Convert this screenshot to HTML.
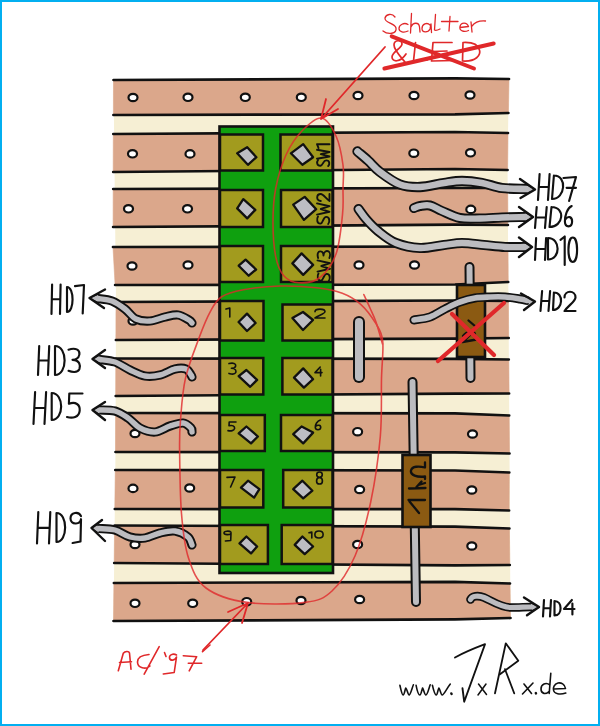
<!DOCTYPE html><html><head><meta charset="utf-8"><style>html,body{margin:0;padding:0;background:#fff;font-family:"Liberation Sans",sans-serif;}svg{display:block;}</style></head><body><svg width="600" height="726" viewBox="0 0 600 726">
<rect x="0" y="0" width="600" height="726" fill="#fff"/>
<path d="M113.49707602339181,80 L116.0,300 L115.5,450 L113.5,621 L510.46280991735534,618 L509.5,450 L507.5,160 L509.0,79Z" fill="#f6efd4"/>
<path d="M113.5,80 L455,78.3 L509.0,79 L508.4,113 L455,114.3 L113.4,115Z" fill="#dba78b" stroke="#dba78b" stroke-width="0.6"/>
<path d="M113.5,80 L455,78.3 L509.0,79 M113.4,115 L455,114.3 L508.4,113" stroke="#111" stroke-width="2.7" fill="none" stroke-linecap="round" stroke-linejoin="round"/>
<path d="M113.3,134 L455,132 L508.0,133 L507.6,170 L455,169 L113.2,172Z" fill="#dba78b" stroke="#dba78b" stroke-width="0.6"/>
<path d="M113.3,134 L455,132 L508.0,133 M113.2,172 L455,169 L507.6,170" stroke="#111" stroke-width="2.7" fill="none" stroke-linecap="round" stroke-linejoin="round"/>
<path d="M113.2,189 L455,188 L507.7,188 L507.9,225 L455,224.7 L113.1,227Z" fill="#dba78b" stroke="#dba78b" stroke-width="0.6"/>
<path d="M113.2,189 L455,188 L507.7,188 M113.1,227 L455,224.7 L507.9,225" stroke="#111" stroke-width="2.7" fill="none" stroke-linecap="round" stroke-linejoin="round"/>
<path d="M113.0,247 L455,246.5 L508.0,247 L508.2,282 L455,284.5 L115.1,285Z" fill="#dba78b" stroke="#dba78b" stroke-width="0.6"/>
<path d="M113.0,247 L455,246.5 L508.0,247 M115.1,285 L455,284.5 L508.2,282" stroke="#111" stroke-width="2.7" fill="none" stroke-linecap="round" stroke-linejoin="round"/>
<path d="M116.0,302 L455,300.5 L508.4,301 L508.7,338 L455,338.7 L115.9,340Z" fill="#dba78b" stroke="#dba78b" stroke-width="0.6"/>
<path d="M116.0,302 L455,300.5 L508.4,301 M115.9,340 L455,338.7 L508.7,338" stroke="#111" stroke-width="2.7" fill="none" stroke-linecap="round" stroke-linejoin="round"/>
<path d="M115.8,358.5 L455,358.9 L508.8,359.5 L509.1,393.5 L455,393.6 L115.7,396Z" fill="#dba78b" stroke="#dba78b" stroke-width="0.6"/>
<path d="M115.8,358.5 L455,358.9 L508.8,359.5 M115.7,396 L455,393.6 L509.1,393.5" stroke="#111" stroke-width="2.7" fill="none" stroke-linecap="round" stroke-linejoin="round"/>
<path d="M115.6,413 L455,413.3 L509.2,415.5 L509.5,453.5 L455,452.4 L115.5,452Z" fill="#dba78b" stroke="#dba78b" stroke-width="0.6"/>
<path d="M115.6,413 L455,413.3 L509.2,415.5 M115.5,452 L455,452.4 L509.5,453.5" stroke="#111" stroke-width="2.7" fill="none" stroke-linecap="round" stroke-linejoin="round"/>
<path d="M115.3,470 L455,470.5 L509.3,472.5 L509.1,510.5 L455,509.2 L114.8,509Z" fill="#dba78b" stroke="#dba78b" stroke-width="0.6"/>
<path d="M115.3,470 L455,470.5 L509.3,472.5 M114.8,509 L455,509.2 L509.1,510.5" stroke="#111" stroke-width="2.7" fill="none" stroke-linecap="round" stroke-linejoin="round"/>
<path d="M114.6,525.5 L455,526.7 L509.4,528.5 L509.8,565 L455,565.4 L114.2,563Z" fill="#dba78b" stroke="#dba78b" stroke-width="0.6"/>
<path d="M114.6,525.5 L455,526.7 L509.4,528.5 M114.2,563 L455,565.4 L509.8,565" stroke="#111" stroke-width="2.7" fill="none" stroke-linecap="round" stroke-linejoin="round"/>
<path d="M113.9,583 L455,581.8 L510.0,583.5 L510.5,618 L455,619.3 L113.5,621Z" fill="#dba78b" stroke="#dba78b" stroke-width="0.6"/>
<path d="M113.9,583 L455,581.8 L510.0,583.5 M113.5,621 L455,619.3 L510.5,618" stroke="#111" stroke-width="2.7" fill="none" stroke-linecap="round" stroke-linejoin="round"/>
<ellipse cx="133" cy="97.5" rx="4.5" ry="3.7" fill="#fff" stroke="#111" stroke-width="2.2"/>
<ellipse cx="188" cy="97.3" rx="4.5" ry="3.7" fill="#fff" stroke="#111" stroke-width="2.2"/>
<ellipse cx="245.3" cy="97.3" rx="4.5" ry="3.7" fill="#fff" stroke="#111" stroke-width="2.2"/>
<ellipse cx="301.3" cy="97.3" rx="4.5" ry="3.7" fill="#fff" stroke="#111" stroke-width="2.2"/>
<ellipse cx="358" cy="95.5" rx="4.5" ry="3.7" fill="#fff" stroke="#111" stroke-width="2.2"/>
<ellipse cx="414" cy="95.5" rx="4.5" ry="3.7" fill="#fff" stroke="#111" stroke-width="2.2"/>
<ellipse cx="470" cy="95" rx="4.5" ry="3.7" fill="#fff" stroke="#111" stroke-width="2.2"/>
<ellipse cx="132.5" cy="153.8" rx="4.5" ry="3.7" fill="#fff" stroke="#111" stroke-width="2.2"/>
<ellipse cx="190" cy="153.9" rx="4.5" ry="3.7" fill="#fff" stroke="#111" stroke-width="2.2"/>
<ellipse cx="413.8" cy="153.2" rx="4.5" ry="3.7" fill="#fff" stroke="#111" stroke-width="2.2"/>
<ellipse cx="470.5" cy="152.8" rx="4.5" ry="3.7" fill="#fff" stroke="#111" stroke-width="2.2"/>
<ellipse cx="128.5" cy="208.8" rx="4.5" ry="3.7" fill="#fff" stroke="#111" stroke-width="2.2"/>
<ellipse cx="187.5" cy="208.8" rx="4.5" ry="3.7" fill="#fff" stroke="#111" stroke-width="2.2"/>
<ellipse cx="470.8" cy="209.4" rx="4.5" ry="3.7" fill="#fff" stroke="#111" stroke-width="2.2"/>
<ellipse cx="132" cy="266" rx="4.5" ry="3.7" fill="#fff" stroke="#111" stroke-width="2.2"/>
<ellipse cx="188" cy="265" rx="4.5" ry="3.7" fill="#fff" stroke="#111" stroke-width="2.2"/>
<ellipse cx="359" cy="265" rx="4.5" ry="3.7" fill="#fff" stroke="#111" stroke-width="2.2"/>
<ellipse cx="414.5" cy="265" rx="4.5" ry="3.7" fill="#fff" stroke="#111" stroke-width="2.2"/>
<ellipse cx="133" cy="321" rx="4.5" ry="3.7" fill="#fff" stroke="#111" stroke-width="2.2"/>
<ellipse cx="135" cy="433.5" rx="4.5" ry="3.7" fill="#fff" stroke="#111" stroke-width="2.2"/>
<ellipse cx="357.6" cy="431.7" rx="4.5" ry="3.7" fill="#fff" stroke="#111" stroke-width="2.2"/>
<ellipse cx="472.5" cy="434" rx="4.5" ry="3.7" fill="#fff" stroke="#111" stroke-width="2.2"/>
<ellipse cx="133" cy="488.4" rx="4.5" ry="3.7" fill="#fff" stroke="#111" stroke-width="2.2"/>
<ellipse cx="189.7" cy="488" rx="4.5" ry="3.7" fill="#fff" stroke="#111" stroke-width="2.2"/>
<ellipse cx="359.6" cy="489.5" rx="4.5" ry="3.7" fill="#fff" stroke="#111" stroke-width="2.2"/>
<ellipse cx="471.8" cy="490" rx="4.5" ry="3.7" fill="#fff" stroke="#111" stroke-width="2.2"/>
<ellipse cx="135" cy="544.5" rx="4.5" ry="3.7" fill="#fff" stroke="#111" stroke-width="2.2"/>
<ellipse cx="357.6" cy="544.5" rx="4.5" ry="3.7" fill="#fff" stroke="#111" stroke-width="2.2"/>
<ellipse cx="471.8" cy="546" rx="4.5" ry="3.7" fill="#fff" stroke="#111" stroke-width="2.2"/>
<ellipse cx="135" cy="603.3" rx="4.5" ry="3.7" fill="#fff" stroke="#111" stroke-width="2.2"/>
<ellipse cx="192.7" cy="603.3" rx="4.5" ry="3.7" fill="#fff" stroke="#111" stroke-width="2.2"/>
<ellipse cx="246.7" cy="601.7" rx="4.5" ry="3.7" fill="#fff" stroke="#111" stroke-width="2.2"/>
<ellipse cx="301" cy="600.5" rx="4.5" ry="3.7" fill="#fff" stroke="#111" stroke-width="2.2"/>
<ellipse cx="359.6" cy="599.5" rx="4.5" ry="3.7" fill="#fff" stroke="#111" stroke-width="2.2"/>
<rect x="219.5" y="126.5" width="113.5" height="446.5" fill="#0fa00f" stroke="#111" stroke-width="2.6"/>
<rect x="220" y="134.5" width="43" height="36.0" fill="#a29b1e" stroke="#111" stroke-width="2.5"/>
<rect x="280.5" y="134.5" width="52.0" height="36.0" fill="#a29b1e" stroke="#111" stroke-width="2.5"/>
<path d="M237.2,153.3 L247.2,147.2 L256.4,157.2 L247.9,164.8Z" fill="#bdbdc3" stroke="#111" stroke-width="2.3" stroke-linejoin="round"/>
<path d="M290.9,153.3 L303.2,144.1 L313.1,157.2 L302.4,164.8Z" fill="#bdbdc3" stroke="#111" stroke-width="2.3" stroke-linejoin="round"/>
<rect x="220" y="190" width="43" height="37" fill="#a29b1e" stroke="#111" stroke-width="2.5"/>
<rect x="281" y="190" width="51.5" height="37" fill="#a29b1e" stroke="#111" stroke-width="2.5"/>
<path d="M237.2,208.4 L243.3,199.2 L255.3,209.9 L247.2,218.4Z" fill="#bdbdc3" stroke="#111" stroke-width="2.3" stroke-linejoin="round"/>
<path d="M293.2,204.6 L304.7,196.9 L316.2,209.2 L303.9,219.9Z" fill="#bdbdc3" stroke="#111" stroke-width="2.3" stroke-linejoin="round"/>
<rect x="220" y="246" width="43" height="36" fill="#a29b1e" stroke="#111" stroke-width="2.5"/>
<rect x="281" y="246" width="51.5" height="36" fill="#a29b1e" stroke="#111" stroke-width="2.5"/>
<path d="M238.7,265.7 L245.6,259.6 L256.1,269.5 L248.7,275.7Z" fill="#bdbdc3" stroke="#111" stroke-width="2.3" stroke-linejoin="round"/>
<path d="M292.4,263.4 L301.6,253.4 L313.1,264.9 L303.2,274.9Z" fill="#bdbdc3" stroke="#111" stroke-width="2.3" stroke-linejoin="round"/>
<rect x="220" y="301" width="43.5" height="39.5" fill="#a29b1e" stroke="#111" stroke-width="2.5"/>
<rect x="282.5" y="304.5" width="50.0" height="36.0" fill="#a29b1e" stroke="#111" stroke-width="2.5"/>
<path d="M238.6,322 L247,313.6 L255.6,323 L247,331Z" fill="#bdbdc3" stroke="#111" stroke-width="2.3" stroke-linejoin="round"/>
<path d="M292.4,318 L303,312 L313,320 L303,330Z" fill="#bdbdc3" stroke="#111" stroke-width="2.3" stroke-linejoin="round"/>
<rect x="220" y="358" width="43.30000000000001" height="36.5" fill="#a29b1e" stroke="#111" stroke-width="2.5"/>
<rect x="282.4" y="358" width="50.10000000000002" height="36.5" fill="#a29b1e" stroke="#111" stroke-width="2.5"/>
<path d="M238.7,376.1 L246.4,370 L257.1,379.9 L250.2,386.8Z" fill="#bdbdc3" stroke="#111" stroke-width="2.3" stroke-linejoin="round"/>
<path d="M294,377.6 L303.2,368.4 L313.1,379.2 L303.9,387.6Z" fill="#bdbdc3" stroke="#111" stroke-width="2.3" stroke-linejoin="round"/>
<rect x="220" y="415" width="44.80000000000001" height="36" fill="#a29b1e" stroke="#111" stroke-width="2.5"/>
<rect x="281" y="415" width="51.5" height="36" fill="#a29b1e" stroke="#111" stroke-width="2.5"/>
<path d="M238.7,433.4 L246.4,426.5 L257.9,436.5 L251,443.4Z" fill="#bdbdc3" stroke="#111" stroke-width="2.3" stroke-linejoin="round"/>
<path d="M293.2,434.2 L301.6,426.5 L313.1,432.6 L303.2,443.4Z" fill="#bdbdc3" stroke="#111" stroke-width="2.3" stroke-linejoin="round"/>
<rect x="220" y="470" width="43.30000000000001" height="37.5" fill="#a29b1e" stroke="#111" stroke-width="2.5"/>
<rect x="283.2" y="470" width="49.30000000000001" height="37.5" fill="#a29b1e" stroke="#111" stroke-width="2.5"/>
<path d="M241,487.6 L248,480.7 L259.4,489.2 L254.1,497.6Z" fill="#bdbdc3" stroke="#111" stroke-width="2.3" stroke-linejoin="round"/>
<path d="M293.2,489.2 L302.4,480.7 L312.4,490.7 L303.2,498.4Z" fill="#bdbdc3" stroke="#111" stroke-width="2.3" stroke-linejoin="round"/>
<rect x="220" y="525" width="47.89999999999998" height="39" fill="#a29b1e" stroke="#111" stroke-width="2.5"/>
<rect x="281.7" y="525" width="50.80000000000001" height="39" fill="#a29b1e" stroke="#111" stroke-width="2.5"/>
<path d="M239.5,543.4 L246.4,536.5 L257.1,546.5 L251,553.4Z" fill="#bdbdc3" stroke="#111" stroke-width="2.3" stroke-linejoin="round"/>
<path d="M294.7,544.9 L302.4,536.5 L313.1,546.5 L304.7,554.1Z" fill="#bdbdc3" stroke="#111" stroke-width="2.3" stroke-linejoin="round"/>
<path d="M 226.0,309.1 L 229.8,308.0 L 229.8,317.0" stroke="#111" stroke-width="1.6" fill="none" stroke-linecap="round" stroke-linejoin="round"/>
<path d="M 315.0,311.7 C 315.0,308.3 325.0,308.3 325.0,311.7 C 325.0,313.5 318.5,315.5 315.0,318.0 L 325.0,318.0" stroke="#111" stroke-width="1.6" fill="none" stroke-linecap="round" stroke-linejoin="round"/>
<path d="M 229.0,363.6 C 233.2,362.4 236.0,363.6 235.7,365.8 C 235.3,367.9 232.5,368.3 231.4,368.3 C 236.0,368.3 236.3,371.2 235.7,372.7 C 234.6,374.6 230.8,374.0 229.0,373.4" stroke="#111" stroke-width="1.6" fill="none" stroke-linecap="round" stroke-linejoin="round"/>
<path d="M 320.2,367.0 L 315.0,372.6 L 322.0,372.6 M 320.6,369.2 L 320.6,376.0" stroke="#111" stroke-width="1.6" fill="none" stroke-linecap="round" stroke-linejoin="round"/>
<path d="M 236.0,422.0 L 229.2,422.0 L 229.0,425.8 C 232.4,424.9 234.8,426.1 234.6,428.3 C 234.2,430.8 230.8,431.2 228.0,430.6" stroke="#111" stroke-width="1.6" fill="none" stroke-linecap="round" stroke-linejoin="round"/>
<path d="M 320.4,420.0 C 317.1,421.0 315.1,424.5 315.3,427.5 C 315.5,430.4 320.5,430.4 320.7,427.5 C 320.9,425.0 317.7,424.5 315.5,426.5" stroke="#111" stroke-width="1.6" fill="none" stroke-linecap="round" stroke-linejoin="round"/>
<path d="M 227.0,477.4 L 235.0,477.0 L 230.6,487.0" stroke="#111" stroke-width="1.6" fill="none" stroke-linecap="round" stroke-linejoin="round"/>
<path d="M 319.5,477.4 C 315.6,476.8 316.0,472.0 319.5,472.0 C 323.0,472.0 323.4,476.8 319.5,477.4 C 315.6,478.0 315.6,484.0 319.5,484.0 C 323.4,484.0 323.4,478.0 319.5,477.4" stroke="#111" stroke-width="1.6" fill="none" stroke-linecap="round" stroke-linejoin="round"/>
<path d="M 231.0,532.2 C 229.6,530.6 224.0,530.8 224.0,533.0 C 224.0,535.0 230.3,535.2 231.0,533.2 L 230.7,540.5 L 225.4,541.0" stroke="#111" stroke-width="1.6" fill="none" stroke-linecap="round" stroke-linejoin="round"/>
<path d="M 309.0,532.7 L 311.8,532.0 L 311.8,538.0" stroke="#111" stroke-width="1.6" fill="none" stroke-linecap="round" stroke-linejoin="round"/>
<path d="M 319.0,531.0 C 324.5,531.0 324.5,538.0 319.0,538.0 C 313.5,538.0 313.5,531.0 319.0,531.0" stroke="#111" stroke-width="1.6" fill="none" stroke-linecap="round" stroke-linejoin="round"/>
<g transform="translate(317,166) rotate(-90)">
<path d="M 5.9,1.0 C 4.1,-0.5 0.1,-0.2 0.3,3.5 C 0.5,6.2 5.6,6.0 5.6,9.2 C 5.6,13.0 1.5,12.8 0.0,11.2" stroke="#111" stroke-width="1.9" fill="none" stroke-linecap="round" stroke-linejoin="round"/>
<path d="M 7.3,0.0 L 9.5,12.5 L 11.8,3.8 L 14.0,12.5 L 16.2,0.0" stroke="#111" stroke-width="1.9" fill="none" stroke-linecap="round" stroke-linejoin="round"/>
<path d="M 18.0,1.5 L 21.8,0.0 L 21.8,12.5" stroke="#111" stroke-width="1.9" fill="none" stroke-linecap="round" stroke-linejoin="round"/>
</g>
<g transform="translate(317,224) rotate(-90)">
<path d="M 7.5,1.0 C 5.2,-0.5 0.1,-0.2 0.4,3.5 C 0.6,6.2 7.1,6.0 7.1,9.2 C 7.1,13.0 1.9,12.8 0.0,11.2" stroke="#111" stroke-width="1.9" fill="none" stroke-linecap="round" stroke-linejoin="round"/>
<path d="M 9.4,0.0 L 12.2,12.5 L 15.0,3.8 L 17.8,12.5 L 20.6,0.0" stroke="#111" stroke-width="1.9" fill="none" stroke-linecap="round" stroke-linejoin="round"/>
<path d="M 23.0,3.8 C 23.0,-1.0 30.0,-1.0 30.0,3.8 C 30.0,6.2 25.4,9.0 23.0,12.5 L 30.0,12.5" stroke="#111" stroke-width="1.9" fill="none" stroke-linecap="round" stroke-linejoin="round"/>
</g>
<g transform="translate(317.5,281) rotate(-90)">
<path d="M 7.5,1.0 C 5.2,-0.5 0.1,-0.2 0.4,3.5 C 0.6,6.2 7.1,6.0 7.1,9.2 C 7.1,13.0 1.9,12.8 0.0,11.2" stroke="#111" stroke-width="1.9" fill="none" stroke-linecap="round" stroke-linejoin="round"/>
<path d="M 9.4,0.0 L 12.2,12.5 L 15.0,3.8 L 17.8,12.5 L 20.6,0.0" stroke="#111" stroke-width="1.9" fill="none" stroke-linecap="round" stroke-linejoin="round"/>
<path d="M 23.0,0.6 C 27.2,-0.6 30.0,0.6 29.6,3.1 C 29.3,5.6 26.5,6.0 25.4,6.0 C 30.0,6.0 30.4,9.4 29.6,11.0 C 28.6,13.1 24.7,12.5 23.0,11.9" stroke="#111" stroke-width="1.9" fill="none" stroke-linecap="round" stroke-linejoin="round"/>
</g>
<path d="M357.5,151.5 C359.2,153.0 364.2,157.1 368,160.5 C371.8,163.9 374.7,168.0 380,172 C385.3,176.0 393.3,182.0 400,184.5 C406.7,187.0 412.7,187.2 420,187 C427.3,186.8 437.0,184.0 444,183 C451.0,182.0 455.7,181.0 462,181 C468.3,181.0 475.3,181.8 482,183 C488.7,184.2 494.7,187.0 502,188 C509.3,189.0 522.0,188.8 526,189" stroke="#111" stroke-width="10.3" fill="none" stroke-linecap="round" stroke-linejoin="round"/>
<path d="M357.5,151.5 C359.2,153.0 364.2,157.1 368,160.5 C371.8,163.9 374.7,168.0 380,172 C385.3,176.0 393.3,182.0 400,184.5 C406.7,187.0 412.7,187.2 420,187 C427.3,186.8 437.0,184.0 444,183 C451.0,182.0 455.7,181.0 462,181 C468.3,181.0 475.3,181.8 482,183 C488.7,184.2 494.7,187.0 502,188 C509.3,189.0 522.0,188.8 526,189" stroke="#bcbcc0" stroke-width="6.6" fill="none" stroke-linecap="round" stroke-linejoin="round"/>
<path d="M535,189.5 L526.8,185.8 L527.0,192.5Z" fill="#bcbcc0"/>
<path d="M520,179 L535,189.5 L520.5,198" stroke="#111" stroke-width="2.4" fill="none" stroke-linecap="round" stroke-linejoin="round"/>
<path d="M414,208 C415.0,207.7 417.3,206.4 420,206 C422.7,205.6 426.3,204.7 430,205.5 C433.7,206.3 437.0,208.9 442,211 C447.0,213.1 453.7,216.8 460,218 C466.3,219.2 473.0,218.6 480,218.5 C487.0,218.4 494.5,217.8 502,217.5 C509.5,217.2 521.2,217.1 525,217" stroke="#111" stroke-width="10.0" fill="none" stroke-linecap="round" stroke-linejoin="round"/>
<path d="M414,208 C415.0,207.7 417.3,206.4 420,206 C422.7,205.6 426.3,204.7 430,205.5 C433.7,206.3 437.0,208.9 442,211 C447.0,213.1 453.7,216.8 460,218 C466.3,219.2 473.0,218.6 480,218.5 C487.0,218.4 494.5,217.8 502,217.5 C509.5,217.2 521.2,217.1 525,217" stroke="#bcbcc0" stroke-width="6.3" fill="none" stroke-linecap="round" stroke-linejoin="round"/>
<path d="M533,217 L525.3,213.5 L525.3,220.5Z" fill="#bcbcc0"/>
<path d="M519,207 L533,217 L519,227" stroke="#111" stroke-width="2.4" fill="none" stroke-linecap="round" stroke-linejoin="round"/>
<path d="M358.5,209 C359.8,210.7 362.8,215.3 366,219 C369.2,222.7 373.0,227.0 378,231 C383.0,235.0 389.0,240.2 396,243 C403.0,245.8 412.0,247.7 420,248 C428.0,248.3 437.0,245.8 444,245 C451.0,244.2 455.3,243.0 462,243 C468.7,243.0 476.8,244.3 484,245 C491.2,245.7 498.3,246.7 505,247 C511.7,247.3 520.8,247.0 524,247" stroke="#111" stroke-width="10.0" fill="none" stroke-linecap="round" stroke-linejoin="round"/>
<path d="M358.5,209 C359.8,210.7 362.8,215.3 366,219 C369.2,222.7 373.0,227.0 378,231 C383.0,235.0 389.0,240.2 396,243 C403.0,245.8 412.0,247.7 420,248 C428.0,248.3 437.0,245.8 444,245 C451.0,244.2 455.3,243.0 462,243 C468.7,243.0 476.8,244.3 484,245 C491.2,245.7 498.3,246.7 505,247 C511.7,247.3 520.8,247.0 524,247" stroke="#bcbcc0" stroke-width="6.3" fill="none" stroke-linecap="round" stroke-linejoin="round"/>
<path d="M532,247 L524.9,243.7 L524.9,250.5Z" fill="#bcbcc0"/>
<path d="M519,237.5 L532,247 L519,257" stroke="#111" stroke-width="2.4" fill="none" stroke-linecap="round" stroke-linejoin="round"/>
<path d="M98,298.5 C100.3,298.9 107.5,299.2 112,301 C116.5,302.8 121.0,306.0 125,309 C129.0,312.0 131.8,317.0 136,319 C140.2,321.0 145.2,321.3 150,321 C154.8,320.7 160.3,318.0 165,317 C169.7,316.0 174.0,314.5 178,315 C182.0,315.5 186.7,318.7 189,320 C191.3,321.3 191.5,322.5 192,323" stroke="#111" stroke-width="9.2" fill="none" stroke-linecap="round" stroke-linejoin="round"/>
<path d="M98,298.5 C100.3,298.9 107.5,299.2 112,301 C116.5,302.8 121.0,306.0 125,309 C129.0,312.0 131.8,317.0 136,319 C140.2,321.0 145.2,321.3 150,321 C154.8,320.7 160.3,318.0 165,317 C169.7,316.0 174.0,314.5 178,315 C182.0,315.5 186.7,318.7 189,320 C191.3,321.3 191.5,322.5 192,323" stroke="#bcbcc0" stroke-width="5.4" fill="none" stroke-linecap="round" stroke-linejoin="round"/>
<path d="M89.5,298 L98.0,295.0 L97.5,301.5Z" fill="#bcbcc0"/>
<path d="M105,289.5 L89.5,298 L104,308" stroke="#111" stroke-width="2.4" fill="none" stroke-linecap="round" stroke-linejoin="round"/>
<path d="M100,359.5 C102.5,359.9 110.0,360.2 115,362 C120.0,363.8 125.0,367.7 130,370 C135.0,372.3 140.0,375.2 145,376 C150.0,376.8 155.0,376.2 160,375 C165.0,373.8 170.7,370.0 175,369 C179.3,368.0 183.3,368.0 186,369 C188.7,370.0 190.0,373.7 191,375 C192.0,376.3 191.8,376.7 192,377" stroke="#111" stroke-width="9.2" fill="none" stroke-linecap="round" stroke-linejoin="round"/>
<path d="M100,359.5 C102.5,359.9 110.0,360.2 115,362 C120.0,363.8 125.0,367.7 130,370 C135.0,372.3 140.0,375.2 145,376 C150.0,376.8 155.0,376.2 160,375 C165.0,373.8 170.7,370.0 175,369 C179.3,368.0 183.3,368.0 186,369 C188.7,370.0 190.0,373.7 191,375 C192.0,376.3 191.8,376.7 192,377" stroke="#bcbcc0" stroke-width="5.4" fill="none" stroke-linecap="round" stroke-linejoin="round"/>
<path d="M92.5,359 L99.4,355.9 L99.4,362.1Z" fill="#bcbcc0"/>
<path d="M105,350 L92.5,359 L105,368" stroke="#111" stroke-width="2.4" fill="none" stroke-linecap="round" stroke-linejoin="round"/>
<path d="M100,410 C102.5,410.2 110.3,409.7 115,411 C119.7,412.3 123.8,415.2 128,418 C132.2,420.8 135.5,425.7 140,428 C144.5,430.3 150.0,432.3 155,432 C160.0,431.7 165.3,427.5 170,426 C174.7,424.5 179.5,422.7 183,423 C186.5,423.3 189.5,426.5 191,428 C192.5,429.5 191.8,431.3 192,432" stroke="#111" stroke-width="9.2" fill="none" stroke-linecap="round" stroke-linejoin="round"/>
<path d="M100,410 C102.5,410.2 110.3,409.7 115,411 C119.7,412.3 123.8,415.2 128,418 C132.2,420.8 135.5,425.7 140,428 C144.5,430.3 150.0,432.3 155,432 C160.0,431.7 165.3,427.5 170,426 C174.7,424.5 179.5,422.7 183,423 C186.5,423.3 189.5,426.5 191,428 C192.5,429.5 191.8,431.3 192,432" stroke="#bcbcc0" stroke-width="5.4" fill="none" stroke-linecap="round" stroke-linejoin="round"/>
<path d="M92.5,410 L99.4,407.2 L99.4,413.5Z" fill="#bcbcc0"/>
<path d="M105,402 L92.5,410 L105,420" stroke="#111" stroke-width="2.4" fill="none" stroke-linecap="round" stroke-linejoin="round"/>
<path d="M99,528.5 C101.7,528.8 109.8,528.6 115,530 C120.2,531.4 125.0,535.7 130,537 C135.0,538.3 140.0,538.7 145,538 C150.0,537.3 155.0,534.2 160,533 C165.0,531.8 170.3,530.3 175,531 C179.7,531.7 185.2,534.7 188,537 C190.8,539.3 191.3,543.7 192,545" stroke="#111" stroke-width="9.2" fill="none" stroke-linecap="round" stroke-linejoin="round"/>
<path d="M99,528.5 C101.7,528.8 109.8,528.6 115,530 C120.2,531.4 125.0,535.7 130,537 C135.0,538.3 140.0,538.7 145,538 C150.0,537.3 155.0,534.2 160,533 C165.0,531.8 170.3,530.3 175,531 C179.7,531.7 185.2,534.7 188,537 C190.8,539.3 191.3,543.7 192,545" stroke="#bcbcc0" stroke-width="5.4" fill="none" stroke-linecap="round" stroke-linejoin="round"/>
<path d="M91.5,528 L97.3,525.2 L98.9,532.5Z" fill="#bcbcc0"/>
<path d="M102,520 L91.5,528 L105,541" stroke="#111" stroke-width="2.4" fill="none" stroke-linecap="round" stroke-linejoin="round"/>
<path d="M359,322 L359,377" stroke="#111" stroke-width="12" fill="none" stroke-linecap="round" stroke-linejoin="round"/>
<path d="M359,322 L359,377" stroke="#bcbcc0" stroke-width="8" fill="none" stroke-linecap="round" stroke-linejoin="round"/>
<path d="M469.5,267 L470.5,378" stroke="#111" stroke-width="10" fill="none" stroke-linecap="round" stroke-linejoin="round"/>
<path d="M469.5,267 L470.5,378" stroke="#bcbcc0" stroke-width="6" fill="none" stroke-linecap="round" stroke-linejoin="round"/>
<rect x="457" y="285" width="28" height="72" fill="#8b5a12" stroke="#111" stroke-width="2.6"/>
<path d="M468.5,320.5 L475.5,326.5 M463,336 C467,331 474,331 475,334 M462.5,342 L476.5,339.5 M464,341 L472,333" stroke="#111" stroke-width="2.3" fill="none" stroke-linecap="round" stroke-linejoin="round"/>
<path d="M414,320 C416.7,319.5 424.8,318.8 430,317 C435.2,315.2 440.0,311.5 445,309 C450.0,306.5 455.0,303.8 460,302 C465.0,300.2 470.0,298.8 475,298 C480.0,297.2 485.0,297.2 490,297 C495.0,296.8 500.0,296.7 505,297 C510.0,297.3 516.3,298.4 520,299 C523.7,299.6 525.8,300.2 527,300.5" stroke="#111" stroke-width="9.0" fill="none" stroke-linecap="round" stroke-linejoin="round"/>
<path d="M414,320 C416.7,319.5 424.8,318.8 430,317 C435.2,315.2 440.0,311.5 445,309 C450.0,306.5 455.0,303.8 460,302 C465.0,300.2 470.0,298.8 475,298 C480.0,297.2 485.0,297.2 490,297 C495.0,296.8 500.0,296.7 505,297 C510.0,297.3 516.3,298.4 520,299 C523.7,299.6 525.8,300.2 527,300.5" stroke="#bcbcc0" stroke-width="5.6" fill="none" stroke-linecap="round" stroke-linejoin="round"/>
<path d="M535,301.5 L527.3,298.7 L529.0,304.5Z" fill="#bcbcc0"/>
<path d="M521,293.5 L535,301.5 L524,310" stroke="#111" stroke-width="2.4" fill="none" stroke-linecap="round" stroke-linejoin="round"/>
<path d="M438,361 L504,303 M452,314 L494,355" stroke="#e0282a" stroke-width="4.3" fill="none" stroke-linecap="round" stroke-linejoin="round"/>
<path d="M412.5,382 L416,602" stroke="#111" stroke-width="10" fill="none" stroke-linecap="round" stroke-linejoin="round"/>
<path d="M412.5,382 L416,602" stroke="#bcbcc0" stroke-width="6" fill="none" stroke-linecap="round" stroke-linejoin="round"/>
<rect x="402.5" y="455" width="28" height="72" fill="#8b5a12" stroke="#111" stroke-width="2.6"/>
<path d="M408.5,500 L425,500 M409.5,501.5 L419,513 M409,488.5 L425.5,488 M416.5,487 L421.5,481.5 M418.5,485 L425,483 M425,462.5 L425,467.5 C419,466 412,466 411,470.5 C410,475 417,477.5 425,476.5 L425,479" stroke="#111" stroke-width="2.3" fill="none" stroke-linecap="round" stroke-linejoin="round"/>
<path d="M470.5,599.5 C472,596 478,595 484,597.5 C492,601 500,607 510,607.5 C518,607.5 526,607 531,607" stroke="#111" stroke-width="8.6" fill="none" stroke-linecap="round" stroke-linejoin="round"/>
<path d="M470.5,599.5 C472,596 478,595 484,597.5 C492,601 500,607 510,607.5 C518,607.5 526,607 531,607" stroke="#bcbcc0" stroke-width="5.2" fill="none" stroke-linecap="round" stroke-linejoin="round"/>
<path d="M539,607 L530.8,603.7 L532.4,609.9Z" fill="#bcbcc0"/>
<path d="M524,597.5 L539,607 L527,615.2" stroke="#111" stroke-width="2.4" fill="none" stroke-linecap="round" stroke-linejoin="round"/>
<path d="M 539.6,174.0 L 538.0,200.0 M 549.6,174.0 L 548.0,200.0 M 538.8,187.0 L 548.8,187.0" stroke="#111" stroke-width="2.15" fill="none" stroke-linecap="round" stroke-linejoin="round"/>
<path d="M 553.9,175.5 L 552.0,199.0 M 553.9,175.5 C 567.4,175.5 565.5,199.0 552.0,199.0" stroke="#111" stroke-width="2.15" fill="none" stroke-linecap="round" stroke-linejoin="round"/>
<path d="M 563.5,178.0 L 576.0,177.0 L 569.1,201.0 M 566.6,187.8 L 576.0,187.8" stroke="#111" stroke-width="2.15" fill="none" stroke-linecap="round" stroke-linejoin="round"/>
<path d="M 536.7,207.0 L 535.0,228.0 M 546.7,207.0 L 545.0,228.0 M 535.8,217.5 L 545.8,217.5" stroke="#111" stroke-width="2.15" fill="none" stroke-linecap="round" stroke-linejoin="round"/>
<path d="M 551.5,207.0 L 549.5,227.0 M 551.5,207.0 C 565.7,207.0 563.7,227.0 549.5,227.0" stroke="#111" stroke-width="2.15" fill="none" stroke-linecap="round" stroke-linejoin="round"/>
<path d="M 571.7,206.0 C 567.3,208.1 564.7,215.4 564.9,221.8 C 565.1,227.8 571.9,227.8 572.1,221.8 C 572.3,216.5 568.1,215.4 565.1,219.7" stroke="#111" stroke-width="2.15" fill="none" stroke-linecap="round" stroke-linejoin="round"/>
<path d="M 536.1,238.0 L 535.0,260.0 M 546.1,238.0 L 545.0,260.0 M 535.5,249.0 L 545.5,249.0" stroke="#111" stroke-width="2.15" fill="none" stroke-linecap="round" stroke-linejoin="round"/>
<path d="M 548.0,238.0 L 548.0,259.5 M 548.0,238.0 C 560.8,238.0 560.8,259.5 548.0,259.5" stroke="#111" stroke-width="2.15" fill="none" stroke-linecap="round" stroke-linejoin="round"/>
<path d="M 560.5,239.9 L 564.7,236.5 L 564.7,265.0" stroke="#111" stroke-width="2.15" fill="none" stroke-linecap="round" stroke-linejoin="round"/>
<path d="M 572.8,237.5 C 578.5,237.5 578.5,262.0 572.8,262.0 C 567.0,262.0 567.0,237.5 572.8,237.5" stroke="#111" stroke-width="2.15" fill="none" stroke-linecap="round" stroke-linejoin="round"/>
<path d="M 542.1,291.0 L 540.5,311.0 M 550.1,291.0 L 548.5,311.0 M 541.3,301.0 L 549.3,301.0" stroke="#111" stroke-width="2.15" fill="none" stroke-linecap="round" stroke-linejoin="round"/>
<path d="M 553.9,292.5 L 553.0,310.0 M 553.9,292.5 C 564.0,292.5 563.1,310.0 553.0,310.0" stroke="#111" stroke-width="2.15" fill="none" stroke-linecap="round" stroke-linejoin="round"/>
<path d="M 564.5,297.4 C 564.5,289.9 575.5,289.9 575.5,297.4 C 575.5,301.2 568.4,305.5 564.5,311.0 L 575.5,311.0" stroke="#111" stroke-width="2.15" fill="none" stroke-linecap="round" stroke-linejoin="round"/>
<path d="M 544.0,600.0 L 543.0,616.5 M 551.0,600.0 L 550.0,616.5 M 543.5,608.2 L 550.5,608.2" stroke="#111" stroke-width="2.15" fill="none" stroke-linecap="round" stroke-linejoin="round"/>
<path d="M 554.5,601.0 L 554.5,615.5 M 554.5,601.0 C 562.6,601.0 562.6,615.5 554.5,615.5" stroke="#111" stroke-width="2.15" fill="none" stroke-linecap="round" stroke-linejoin="round"/>
<path d="M 571.9,600.0 L 564.0,609.0 L 574.5,609.0 M 572.4,603.6 L 572.4,614.5" stroke="#111" stroke-width="2.15" fill="none" stroke-linecap="round" stroke-linejoin="round"/>
<path d="M 52.1,284.5 L 51.5,314.0 M 60.6,284.5 L 60.0,314.0 M 51.8,299.2 L 60.3,299.2" stroke="#111" stroke-width="2.15" fill="none" stroke-linecap="round" stroke-linejoin="round"/>
<path d="M 67.0,287.0 L 67.0,312.0 M 67.0,287.0 C 74.4,287.0 74.4,312.0 67.0,312.0" stroke="#111" stroke-width="2.15" fill="none" stroke-linecap="round" stroke-linejoin="round"/>
<path d="M 75.0,286.1 L 84.0,285.0 L 82.7,313.5" stroke="#111" stroke-width="2.15" fill="none" stroke-linecap="round" stroke-linejoin="round"/>
<path d="M 39.2,346.0 L 38.0,375.0 M 49.2,346.0 L 48.0,375.0 M 38.6,360.5 L 48.6,360.5" stroke="#111" stroke-width="2.15" fill="none" stroke-linecap="round" stroke-linejoin="round"/>
<path d="M 55.0,346.0 L 55.0,375.0 M 55.0,346.0 C 67.8,346.0 67.8,375.0 55.0,375.0" stroke="#111" stroke-width="2.15" fill="none" stroke-linecap="round" stroke-linejoin="round"/>
<path d="M 68.5,349.7 C 75.4,347.3 80.0,349.7 79.4,354.4 C 78.8,359.1 74.2,359.8 72.5,359.8 C 80.0,359.8 80.6,366.1 79.4,369.2 C 77.7,373.2 71.4,372.0 68.5,370.8" stroke="#111" stroke-width="2.15" fill="none" stroke-linecap="round" stroke-linejoin="round"/>
<path d="M 35.1,392.0 L 33.5,424.0 M 46.1,392.0 L 44.5,424.0 M 34.3,408.0 L 45.3,408.0" stroke="#111" stroke-width="2.15" fill="none" stroke-linecap="round" stroke-linejoin="round"/>
<path d="M 51.7,393.0 L 51.7,420.0 M 51.7,393.0 C 64.3,393.0 64.3,420.0 51.7,420.0" stroke="#111" stroke-width="2.15" fill="none" stroke-linecap="round" stroke-linejoin="round"/>
<path d="M 82.5,393.5 L 69.3,393.5 L 68.9,403.8 C 75.5,401.3 80.2,404.5 79.7,410.6 C 79.1,417.5 72.4,418.5 67.0,417.0" stroke="#111" stroke-width="2.15" fill="none" stroke-linecap="round" stroke-linejoin="round"/>
<path d="M 38.3,512.0 L 37.0,543.5 M 50.3,512.0 L 49.0,543.5 M 37.6,527.8 L 49.6,527.8" stroke="#111" stroke-width="2.15" fill="none" stroke-linecap="round" stroke-linejoin="round"/>
<path d="M 56.5,513.0 L 56.5,542.0 M 56.5,513.0 C 68.0,513.0 68.0,542.0 56.5,542.0" stroke="#111" stroke-width="2.15" fill="none" stroke-linecap="round" stroke-linejoin="round"/>
<path d="M 81.0,516.2 C 78.9,511.3 70.5,511.9 70.5,518.6 C 70.5,524.7 80.0,525.3 81.0,519.2 L 80.5,541.5 L 72.6,543.0" stroke="#111" stroke-width="2.15" fill="none" stroke-linecap="round" stroke-linejoin="round"/>
<g opacity="0.8">
<path d="M321.5,118 C327.2,118.8 332.4,128.2 336,136 C339.6,143.8 341.8,156.2 343,165 C344.2,173.8 343.1,180.2 343,188.5 C342.9,196.8 343.7,203.8 342.5,214.7 C341.3,225.6 339.8,243.5 336,254 C332.2,264.5 326.2,272.7 320,277.5 C313.8,282.3 305.0,283.1 299,282.8 C293.0,282.6 287.9,280.4 284,276 C280.1,271.6 277.5,265.5 275.7,256.6 C273.9,247.7 273.0,233.9 273,222.6 C273.0,211.2 273.5,199.8 275.7,188.5 C277.9,177.2 281.8,164.1 286.2,154.5 C290.6,144.9 296.0,137.1 301.9,131 C307.8,124.9 315.8,117.2 321.5,118" stroke="#e0282a" stroke-width="1.6" fill="none" stroke-linecap="round" stroke-linejoin="round"/>
<path d="M382.7,341 C383.7,350.3 381.9,362.7 381.5,378.6 C381.1,394.5 382.1,415.9 380.3,436.5 C378.5,457.1 374.9,482.1 370.7,502 C366.5,521.9 361.4,541.2 355,556 C348.6,570.8 340.3,583.3 332,591 C323.7,598.7 319.2,600.5 305,602.4 C290.8,604.3 263.5,604.8 247,602.4 C230.5,600.0 215.8,595.4 206,588 C196.2,580.6 192.6,570.4 188.5,558 C184.4,545.6 183.0,531.7 181.5,513.7 C180.0,495.7 179.8,465.6 179.6,450 C179.4,434.4 179.5,431.9 180.5,420 C181.5,408.1 182.3,392.4 185.4,378.6 C188.5,364.8 195.2,348.5 199.3,337.3 C203.5,326.1 206.6,318.4 210.3,311.7 C214.0,305.0 215.8,300.7 221.3,297 C226.8,293.3 233.5,291.5 243.3,289.7 C253.1,287.9 267.8,286.3 280,286 C292.2,285.7 306.3,286.6 316.7,287.8 C327.1,289.0 335.0,290.6 342.3,293.3 C349.6,296.1 355.2,299.4 360.7,304.3 C366.2,309.2 371.6,316.6 375.3,322.7 C379.0,328.8 381.7,331.7 382.7,341" stroke="#e0282a" stroke-width="1.6" fill="none" stroke-linecap="round" stroke-linejoin="round"/>
<path d="M363.8,294.5 C364.8,296.8 368.0,303.4 370,308 C372.0,312.6 373.9,316.0 376,322 C378.1,328.0 381.4,340.3 382.5,344" stroke="#e0282a" stroke-width="1.6" fill="none" stroke-linecap="round" stroke-linejoin="round"/>
</g>
<path d="M385,47 L321,119 M326,99 L321,119 L338,109" stroke="#e0282a" stroke-width="1.8" fill="none" stroke-linecap="round" stroke-linejoin="round"/>
<path d="M203,650 L248,603 M228,612 L248,603 L242,623" stroke="#e0282a" stroke-width="1.8" fill="none" stroke-linecap="round" stroke-linejoin="round"/>
<path d="M395,17 C392,13 386,14 385,18 C384,23 395,23 396,28 C397,34 388,35 383,31" stroke="#e0282a" stroke-width="1.3" fill="none" stroke-linecap="round" stroke-linejoin="round"/>
<path d="M408,24.5 C404,22 399,25 399,28.5 C399,32 404,33 408,31" stroke="#e0282a" stroke-width="1.3" fill="none" stroke-linecap="round" stroke-linejoin="round"/>
<path d="M411.5,13.5 L410.5,33 M411,27 C413,22 419,22 419.5,27 L420,32" stroke="#e0282a" stroke-width="1.3" fill="none" stroke-linecap="round" stroke-linejoin="round"/>
<path d="M430,25 C427,22 422,24 422,28.5 C422,33 428,33 430,29 L431,24 L431.5,32.5" stroke="#e0282a" stroke-width="1.3" fill="none" stroke-linecap="round" stroke-linejoin="round"/>
<path d="M435.5,14.5 L434.5,30 C436,31 438,30 440,29" stroke="#e0282a" stroke-width="1.3" fill="none" stroke-linecap="round" stroke-linejoin="round"/>
<path d="M450,16.5 L449,31 M441.5,21.5 L458,21.5" stroke="#e0282a" stroke-width="1.3" fill="none" stroke-linecap="round" stroke-linejoin="round"/>
<path d="M460,27.5 L468.5,26.5 C467,22 461,22 460,26.5 C459,31 464,32.5 468.5,30.5" stroke="#e0282a" stroke-width="1.3" fill="none" stroke-linecap="round" stroke-linejoin="round"/>
<path d="M471,22 L472,32 M472,26 C475,22 480,20.5 485.5,21" stroke="#e0282a" stroke-width="1.3" fill="none" stroke-linecap="round" stroke-linejoin="round"/>
<path d="M405,62 C400,56 394,50 394,45 C394,40 402,39 402,44 C402,48 392,52 392,57 C392,62 400,63 406,54" stroke="#e0282a" stroke-width="1.7" fill="none" stroke-linecap="round" stroke-linejoin="round"/>
<path d="M415.5,42.5 L413.5,61 L427,60" stroke="#e0282a" stroke-width="1.7" fill="none" stroke-linecap="round" stroke-linejoin="round"/>
<path d="M452,42.5 L433,42.5 L431.5,61 L455,60.5 M432,51.5 L447,51" stroke="#e0282a" stroke-width="1.7" fill="none" stroke-linecap="round" stroke-linejoin="round"/>
<path d="M463,42.5 L462.5,61 C476,62 481,55 479.5,50 C478,44 472,42 463,42.5" stroke="#e0282a" stroke-width="1.7" fill="none" stroke-linecap="round" stroke-linejoin="round"/>
<path d="M391.7,36.3 L474,68.5 M384.4,68.5 L493.7,43.5" stroke="#e0282a" stroke-width="4.0" fill="none" stroke-linecap="round" stroke-linejoin="round"/>
<path d="M118.3,670.8 L123.3,653.3 C125,651 129,651 129.5,653 L131,669.2 M119.5,662.5 L131.5,661.7" stroke="#e0282a" stroke-width="1.6" fill="none" stroke-linecap="round" stroke-linejoin="round"/>
<path d="M149,654.5 C143,655 137.5,657 137.5,662 C137.5,668 146,670 150,666 M144.2,674.2 L159.2,646.7" stroke="#e0282a" stroke-width="1.6" fill="none" stroke-linecap="round" stroke-linejoin="round"/>
<path d="M164.5,652.5 L166,656.5" stroke="#e0282a" stroke-width="1.6" fill="none" stroke-linecap="round" stroke-linejoin="round"/>
<path d="M176.5,655 C173,653 169,655 169.5,658 C170,661 175,661 176.5,657 L174.2,672.5 L163.3,674" stroke="#e0282a" stroke-width="1.6" fill="none" stroke-linecap="round" stroke-linejoin="round"/>
<path d="M183.3,655.8 L196.7,656.7 L189.2,670.8 M188.3,663.3 L201.7,663.3" stroke="#e0282a" stroke-width="1.6" fill="none" stroke-linecap="round" stroke-linejoin="round"/>
<path d="M202.5,651.7 L210,645" stroke="#e0282a" stroke-width="1.6" fill="none" stroke-linecap="round" stroke-linejoin="round"/>
<path d="M399.9,685.3 C401,690 402,695 403.1,695 C404.5,695 405,689 405.8,688 C407,689 408,695 409.1,695 C410.5,695 412,688 413.4,684.8 M416.1,685.3 C417,690 418.5,695 419.9,695 C421,695 422,689 422.6,688 C423.5,689 424.5,695 425.9,695 C427.5,695 429,688 430.2,684.8 M432.4,685.3 C433.5,690 435,695 436.2,695 C437.5,695 438,689 438.9,688 C440,689 441,695 442.1,695 C444,695 447,688 450.3,684" stroke="#111" stroke-width="1.6" fill="none" stroke-linecap="round" stroke-linejoin="round"/>
<path d="M451.3,693.4 L451.6,694" stroke="#111" stroke-width="2.4" fill="none" stroke-linecap="round" stroke-linejoin="round"/>
<path d="M455,657.5 C465,652 475,648 485,644.2 L464.2,701.7 L462.5,688.3" stroke="#111" stroke-width="1.9" fill="none" stroke-linecap="round" stroke-linejoin="round"/>
<path d="M478.5,684 L486.5,694.5 M486,684 L478,695" stroke="#111" stroke-width="1.5" fill="none" stroke-linecap="round" stroke-linejoin="round"/>
<path d="M495,693.3 L505.8,643.3 L518.3,660.8 L500,674.2 M505,669.2 L514.2,693.3" stroke="#111" stroke-width="1.8" fill="none" stroke-linecap="round" stroke-linejoin="round"/>
<path d="M524,684 L531.5,693.5 M533,683 L522.5,694" stroke="#111" stroke-width="1.6" fill="none" stroke-linecap="round" stroke-linejoin="round"/>
<path d="M535.8,693 L536,693.5" stroke="#111" stroke-width="2.4" fill="none" stroke-linecap="round" stroke-linejoin="round"/>
<path d="M550,685 C546,682 541,684 541,689 C541,694 546,695 549.5,691 M550.8,673.3 L549.2,693.5" stroke="#111" stroke-width="1.6" fill="none" stroke-linecap="round" stroke-linejoin="round"/>
<path d="M554,689 L565.5,688.5 C565,684 561,682.5 558,683 C554,684 553,688 553.5,690 C554,694 560,695 565.8,693" stroke="#111" stroke-width="1.6" fill="none" stroke-linecap="round" stroke-linejoin="round"/>
<path d="M0,0H600V726H0Z M2,2V724H598V2Z" fill="#03aff0" fill-rule="evenodd"/>
</svg></body></html>
